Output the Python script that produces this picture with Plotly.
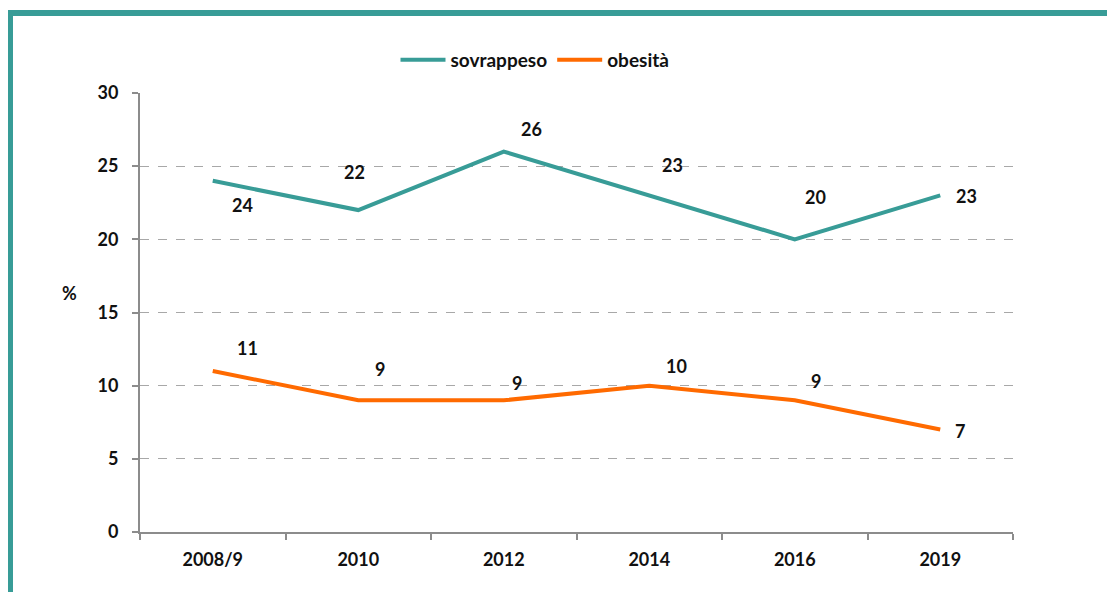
import plotly.graph_objects as go

years = ["2008/9", "2010", "2012", "2014", "2016", "2019"]
sovrappeso = [24, 22, 26, 23, 20, 23]
obesita = [11, 9, 9, 10, 9, 7]

TEAL = "#389C97"
ORANGE = "#FF6A00"
FONT = "Lato"
TXT = "#111111"
FS = 18

OFF = 8  # page body margin offset of the rendered figure
W, H = 1115 - OFF, 592 - OFF
ML, MR, MT, MB = 140 - OFF, 102, 93 - OFF, 60
PW, PH = W - ML - MR, H - MT - MB

def px(x):
    """screen x pixel -> paper coordinate"""
    return (x - OFF - ML) / PW

def py(y):
    """screen y pixel -> paper coordinate"""
    return (H - MB - (y - OFF)) / PH

# label offsets (pixels) for each series
off_s = [(30, -24), (-4, 38), (28, 23), (23, 30), (21, 42), (26, -1)]
off_o = [(35, 23), (22, 31), (13, 17), (27, 20), (21, 19), (20, -1)]

fig = go.Figure()
fig.add_trace(go.Scatter(x=years, y=sovrappeso, mode="lines", name="sovrappeso",
                         line=dict(color=TEAL, width=4)))
fig.add_trace(go.Scatter(x=years, y=obesita, mode="lines", name="obesità",
                         line=dict(color=ORANGE, width=4)))

annots = []
for vals, offs in ((sovrappeso, off_s), (obesita, off_o)):
    for i, (yv, (dx, dy)) in enumerate(zip(vals, offs)):
        annots.append(dict(x=i, y=yv, text=str(yv), showarrow=False,
                           xshift=dx, yshift=dy,
                           font=dict(family=FONT, size=FS, color=TXT, weight="bold")))
annots.append(dict(xref="paper", yref="paper", x=px(69), y=py(293), text="%",
                   xanchor="center", yanchor="middle",
                   showarrow=False, font=dict(family=FONT, size=FS, color=TXT, weight="bold")))

fig.update_layout(
    width=W, height=H,
    margin=dict(l=ML, r=MR, t=MT, b=MB, pad=0),
    paper_bgcolor="white", plot_bgcolor="white",
    showlegend=True,
    legend=dict(orientation="h", x=px(535), y=py(60), xanchor="center", yanchor="middle",
                font=dict(family=FONT, size=19, color=TXT, weight="bold"),
                itemwidth=45, bgcolor="rgba(0,0,0,0)"),
    annotations=annots,
    shapes=[dict(type="path", xref="paper", yref="paper",
                 path=f"M {px(10)},{py(H+40)} L {px(10)},{py(13)} L {px(W+40)},{py(13)}",
                 line=dict(color=TEAL, width=6))],
    xaxis=dict(type="category", range=[-0.5, 5.5], showline=True, linecolor="#8C8C8C",
               linewidth=2, ticks="outside", tickson="boundaries", ticklen=6,
               tickcolor="#8C8C8C", tickwidth=2, showgrid=False, zeroline=False,
               tickangle=0, ticklabelstandoff=10,
               tickfont=dict(family=FONT, size=FS, color=TXT, weight="bold")),
    yaxis=dict(range=[0, 30], dtick=5, showline=True, linecolor="#8C8C8C", linewidth=2,
               ticks="outside", ticklen=6, tickcolor="#8C8C8C", tickwidth=2,
               showgrid=True, gridcolor="#A8A8A8", griddash="dash", gridwidth=1,
               zeroline=False, ticklabelstandoff=10,
               tickfont=dict(family=FONT, size=FS, color=TXT, weight="bold")),
)
fig.write_html("out.html")
